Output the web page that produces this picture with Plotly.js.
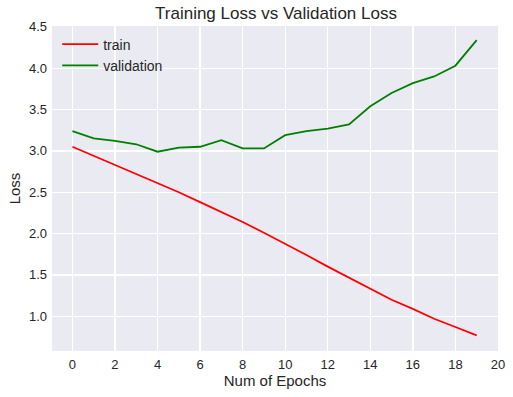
<!DOCTYPE html>
<html><head><script src="https://cdn.plot.ly/plotly-3.0.1.min.js"></script>
<style>body{margin:0;padding:0}#c{width:513px;height:397px}</style></head>
<body><div id="c"></div>
<script>
const epochs = [0,1,2,3,4,5,6,7,8,9,10,11,12,13,14,15,16,17,18,19];
const trainLoss = [3.05,2.94,2.83,2.72,2.61,2.50,2.38,2.26,2.14,2.01,1.88,1.74,1.60,1.47,1.34,1.20,1.09,0.97,0.87,0.77];
const valLoss = [3.24,3.15,3.12,3.08,2.99,3.04,3.05,3.13,3.03,3.03,3.19,3.24,3.27,3.32,3.54,3.70,3.82,3.90,4.03,4.34];
const xTicks = [0,2,4,6,8,10,12,14,16,18,20];
const yTicks = [1.0,1.5,2.0,2.5,3.0,3.5,4.0,4.5];
const font = "Liberation Sans, Arial, sans-serif";
const traces = [
  {x: epochs, y: trainLoss, mode: 'lines', name: 'train', line: {color: '#ff0000', width: 1.8}},
  {x: epochs, y: valLoss, mode: 'lines', name: 'validation', line: {color: '#008000', width: 1.8}}
];
const layout = {
  width: 513, height: 397,
  margin: {l: 52, r: 15, t: 26, b: 46},
  paper_bgcolor: '#ffffff', plot_bgcolor: '#eaeaf2',
  font: {family: font, color: '#262626', size: 13},
  title: {text: 'Training Loss vs Validation Loss', font: {size: 17, color: '#262626'}, x: 0.538, xanchor: 'center', y: 0.983, yanchor: 'top'},
  showlegend: true,
  legend: {x: 0.0117, y: 0.992, xanchor: 'left', yanchor: 'top', bgcolor: 'rgba(0,0,0,0)', font: {size: 14, color: '#262626'}, tracegroupgap: 0, itemwidth: 36},
  xaxis: {range: [-0.96, 20.002], tickvals: xTicks, ticktext: xTicks.map(String), showgrid: true, gridcolor: '#ffffff', gridwidth: 1.3, zeroline: false, showline: false, ticks: '', tickfont: {size: 13}, ticklabelstandoff: 4,
    title: {text: 'Num of Epochs', font: {size: 15}, standoff: 4}},
  yaxis: {range: [0.58, 4.51], tickvals: yTicks, ticktext: yTicks.map(v => v.toFixed(1)), showgrid: true, gridcolor: '#ffffff', gridwidth: 1.3, zeroline: false, showline: false, ticks: '', tickfont: {size: 13}, ticklabelstandoff: 4,
    title: {text: 'Loss', font: {size: 15}, standoff: 4}}
};
Plotly.newPlot('c', traces, layout, {displayModeBar: false, staticPlot: true});
</script></body></html>
